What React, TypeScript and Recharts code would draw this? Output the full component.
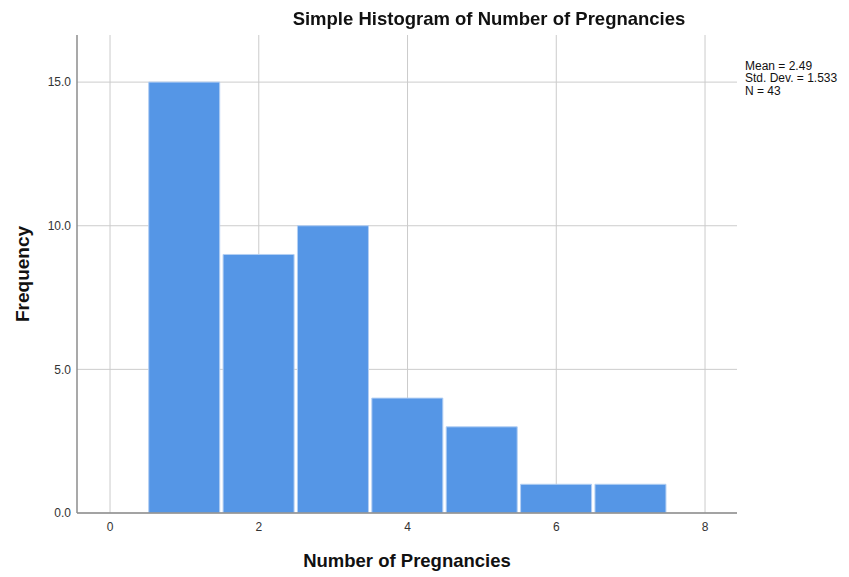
import { ComposedChart, Bar, XAxis, YAxis, CartesianGrid } from "recharts";

const BIN_CENTERS = [1, 2, 3, 4, 5, 6, 7];
const FREQUENCIES = [15, 9, 10, 4, 3, 1, 1];
const X_TICKS = [0, 2, 4, 6, 8];
const Y_TICKS = [0, 5, 10, 15];
const STATS = ["Mean = 2.49", "Std. Dev. = 1.533", "N = 43"];

const data = BIN_CENTERS.map((x, i) => ({ x, count: FREQUENCIES[i] }));

const FONT = "'Liberation Sans', Arial, sans-serif";

export default function App() {
  return (
    <div style={{ position: "fixed", left: 0, top: 0, width: 849, height: 577, background: "#fff", fontFamily: FONT }}>
      <ComposedChart
        width={849}
        height={577}
        data={data}
        margin={{ top: 35, right: 112, bottom: 34, left: 17 }}
        barCategoryGap={1.5}
      >
        <CartesianGrid stroke="#cccccc" strokeWidth={1} syncWithTicks />
        <XAxis
          dataKey="x"
          type="number"
          domain={[-0.444, 8.43]}
          ticks={X_TICKS}
          allowDataOverflow
          height={30}
          tickLine={false}
          axisLine={{ stroke: "#8c8c8c", strokeWidth: 1.5 }}
          tick={{ fill: "#333", fontSize: 12, fontFamily: FONT }}
          tickMargin={3}
        />
        <YAxis
          type="number"
          domain={[0, 16.64]}
          ticks={Y_TICKS}
          allowDataOverflow
          width={60}
          tickLine={false}
          axisLine={{ stroke: "#8c8c8c", strokeWidth: 1.5 }}
          tickFormatter={(v: number) => v.toFixed(1)}
          tick={{ fill: "#333", fontSize: 12, fontFamily: FONT }}
          tickMargin={0}
        />
        <Bar dataKey="count" fill="#5596e6" stroke="#b3cff3" strokeWidth={1} isAnimationActive={false} />
      </ComposedChart>
      <div style={{ position: "absolute", left: 0, width: 978, top: 8, textAlign: "center", fontSize: 18.5, fontWeight: "bold", color: "#111" }}>
        Simple Histogram of Number of Pregnancies
      </div>
      <div style={{ position: "absolute", left: 77, width: 660, top: 550, textAlign: "center", fontSize: 18.5, fontWeight: "bold", color: "#111" }}>
        Number of Pregnancies
      </div>
      <div
        style={{
          position: "absolute",
          left: 23,
          top: 274,
          transform: "translate(-50%, -50%) rotate(-90deg)",
          fontSize: 19,
          fontWeight: "bold",
          color: "#111",
          whiteSpace: "nowrap",
        }}
      >
        Frequency
      </div>
      <div style={{ position: "absolute", left: 745, top: 59.5, fontSize: 12, lineHeight: "12.5px", color: "#111" }}>
        {STATS.map((s) => (
          <div key={s}>{s}</div>
        ))}
      </div>
    </div>
  );
}
